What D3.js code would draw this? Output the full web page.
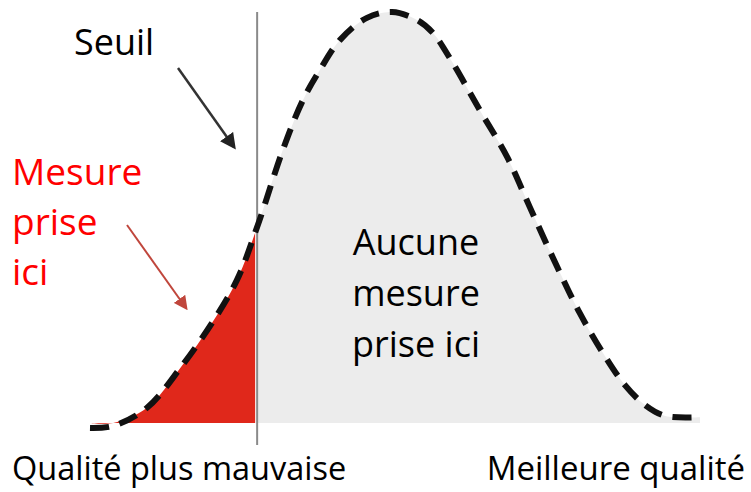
<!DOCTYPE html>
<html>
<head>
<meta charset="utf-8">
<script src="https://cdn.jsdelivr.net/npm/d3@7"></script>
<style>
  body { margin: 0; background: #fff; }
  text { font-family: "Open Sans", "Noto Sans", sans-serif; }
</style>
</head>
<body>
<svg id="chart"></svg>
<script>
// quality (0 = worst, 100 = best) and relative frequency
const quality = [0, 3.8, 9.3, 14.8, 20.2, 24.1, 27.4, 31.6, 34.9, 37.7, 41.0, 45.4, 49.5, 53.6, 56.2, 59.0, 63.9, 68.4, 72.1, 76.6, 80.3, 84.1, 87.7, 91.0, 94.3, 100]
const density = [0, 0.5, 4.8, 14.4, 25.7, 35.6, 48.3, 66.8, 78.8, 86.1, 93.3, 98.6, 100, 98.1, 95.0, 88.9, 76.4, 65.1, 53.1, 38.7, 27.6, 18.0, 10.3, 5.5, 2.9, 2.6]
const threshold = 27.4
const floorLevel = 1.2

const redLabel = ["Mesure", "prise", "ici"]
const greyLabel = ["Aucune", "mesure", "prise ici"]
const axisLabels = ["Qualité plus mauvaise", "Meilleure qualité"]

const width = 751, height = 492

const svg = d3.select("#chart")
    .attr("width", width)
    .attr("height", height)

const x = d3.scaleLinear().domain([0, 100]).range([90, 700])
const y = d3.scaleLinear().domain([0, 100]).range([428, 12])

const points = quality.map((q, i) => ({ q, d: density[i] }))

const defs = svg.append("defs")
defs.append("clipPath").attr("id", "clip-left")
    .append("rect")
    .attr("x", 0).attr("y", 0)
    .attr("width", x(threshold) - 2).attr("height", height)
defs.append("clipPath").attr("id", "clip-right")
    .append("rect")
    .attr("x", x(threshold)).attr("y", 0)
    .attr("width", width - x(threshold)).attr("height", height)

const area = d3.area()
    .curve(d3.curveCatmullRom)
    .x(d => x(d.q))
    .y0(y(floorLevel))
    .y1(d => y(Math.max(d.d, floorLevel)))

// grey part (no action)
svg.append("path")
    .datum(points)
    .attr("clip-path", "url(#clip-right)")
    .attr("fill", "#ececec")
    .attr("d", area)

// red part (action taken)
svg.append("path")
    .datum(points)
    .attr("clip-path", "url(#clip-left)")
    .attr("fill", "#e0281b")
    .attr("d", area)

// threshold
svg.append("line")
    .attr("x1", x(threshold)).attr("x2", x(threshold))
    .attr("y1", y(100)).attr("y2", y(-4.1))
    .attr("stroke", "#8a8a8a")
    .attr("stroke-width", 2)

// dashed distribution curve
svg.append("path")
    .datum(points)
    .attr("fill", "none")
    .attr("stroke", "#111")
    .attr("stroke-width", 6)
    .attr("stroke-dasharray", "19 11")
    .attr("d", d3.line().curve(d3.curveCatmullRom).x(d => x(d.q)).y(d => y(d.d)))

// arrows
const arrow = (id, color, size) => {
    defs.append("marker")
        .attr("id", id)
        .attr("viewBox", "0 0 10 10")
        .attr("refX", 8).attr("refY", 5)
        .attr("markerWidth", size).attr("markerHeight", size)
        .attr("markerUnits", "userSpaceOnUse")
        .attr("orient", "auto")
        .append("path")
        .attr("d", "M0,0L10,5L0,10z")
        .attr("fill", color)
}
arrow("head-black", "#222", 16)
arrow("head-red", "#c0463c", 14)

svg.append("line")
    .attr("x1", 178).attr("y1", 68)
    .attr("x2", 234).attr("y2", 147)
    .attr("stroke", "#333").attr("stroke-width", 2.5)
    .attr("marker-end", "url(#head-black)")

svg.append("line")
    .attr("x1", 127).attr("y1", 225)
    .attr("x2", 186).attr("y2", 308)
    .attr("stroke", "#c0463c").attr("stroke-width", 2)
    .attr("marker-end", "url(#head-red)")

// labels
svg.append("text")
    .attr("x", 74).attr("y", 55)
    .attr("font-size", 36)
    .attr("fill", "#000")
    .text("Seuil")

svg.append("text")
    .attr("x", 12).attr("y", 185)
    .attr("font-size", 37)
    .attr("fill", "#f00")
    .selectAll("tspan")
    .data(redLabel)
    .join("tspan")
    .attr("x", 12)
    .attr("dy", (d, i) => i === 0 ? 0 : 50)
    .text(d => d)

svg.append("text")
    .attr("x", 416).attr("y", 255)
    .attr("font-size", 36)
    .attr("fill", "#000")
    .attr("text-anchor", "middle")
    .selectAll("tspan")
    .data(greyLabel)
    .join("tspan")
    .attr("x", 416)
    .attr("dy", (d, i) => i === 0 ? 0 : 51)
    .text(d => d)

svg.append("text")
    .attr("x", 12).attr("y", 480)
    .attr("font-size", 32.5)
    .attr("fill", "#000")
    .text(axisLabels[0])

svg.append("text")
    .attr("x", 745).attr("y", 480)
    .attr("font-size", 33)
    .attr("fill", "#000")
    .attr("text-anchor", "end")
    .text(axisLabels[1])
</script>
</body>
</html>
